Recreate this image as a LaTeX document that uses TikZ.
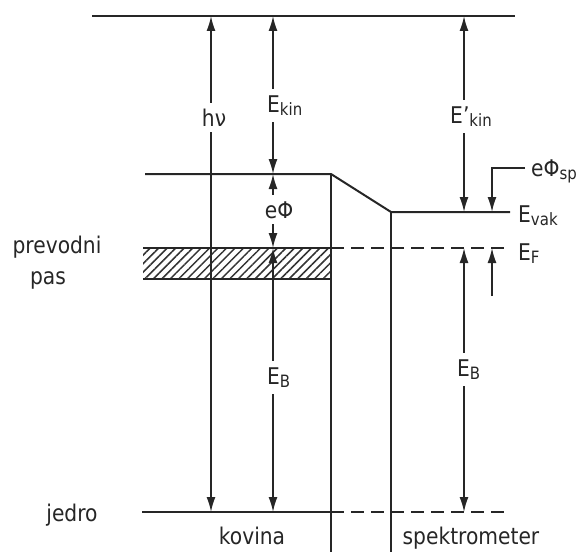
\documentclass[tikz,border=0pt]{standalone}
\usepackage{fontspec}
\setmainfont{DejaVu Sans}[FakeStretch=0.88]
\usetikzlibrary{arrows.meta,patterns.meta}
\newcommand\lowsub[1]{\raisebox{-0.3ex}{\fontsize{17}{17}\selectfont #1}}
\begin{document}
\begin{tikzpicture}[x=1pt,y=-1pt,
  level/.style={line width=2pt, color=black!85},
  dashlevel/.style={line width=2pt, color=black!85, dash pattern=on 13pt off 7pt},
  dim/.style={line width=1.6pt, color=black!85, {Latex[length=15pt,width=9pt]}-{Latex[length=15pt,width=9pt]}},
  onedim/.style={line width=1.6pt, color=black!85, -{Latex[length=15pt,width=9pt]}},
  lab/.style={font=\fontsize{23}{23}\selectfont, text=black!85, inner sep=0pt},
  gaplab/.style={lab, fill=white, inner ysep=6pt, inner xsep=1pt}]
\useasboundingbox (0,0) rectangle (585,551);

% coordinates of levels
\coordinate (topL) at (92,16);   \coordinate (topR) at (515,16);
\coordinate (vacL) at (145,174); \coordinate (vacM) at (331,174);
\coordinate (vacS) at (391,212); \coordinate (vacR) at (510,212);
\coordinate (fermiL) at (143,248); \coordinate (fermiM) at (331,248); \coordinate (fermiR) at (510,248);
\coordinate (bandL) at (143,279); \coordinate (bandR) at (331,279);
\coordinate (coreL) at (142,512); \coordinate (coreM) at (331,512); \coordinate (coreR) at (505,512);
\coordinate (wallM) at (331,560); \coordinate (wallS) at (391,560);

% hatched conduction band
\fill[pattern={Lines[angle=45,distance=6pt,line width=1.5pt]}, pattern color=black!80] (fermiL) rectangle (bandR);

% levels
\draw[level] (topL) -- (topR);
\draw[level] (vacL) -- (vacM) -- (vacS) -- (vacR);
\draw[level] (vacM) -- (wallM);
\draw[level] (vacS) -- (wallS);
\draw[level] (fermiL) -- (fermiM);
\draw[dashlevel] (fermiM) -- (fermiR);
\draw[level] (bandL) -- (bandR);
\draw[level] (coreL) -- (coreM);
\draw[dashlevel] (coreM) -- (coreR);

% arrow end points
\coordinate (hvT) at (211,16);  \coordinate (hvB) at (211,512);
\coordinate (kT) at (273,16);   \coordinate (kV) at (273,174);
\coordinate (kF) at (273,248);  \coordinate (kB) at (273,512);
\coordinate (sT) at (464,16);   \coordinate (sV) at (464,212);
\coordinate (sF) at (464,248);  \coordinate (sB) at (464,512);
\coordinate (pE) at (525,168);  \coordinate (pC) at (492,168);
\coordinate (pV) at (492,212);  \coordinate (pF) at (492,248);
\coordinate (pL) at (492,296);

\draw[dim] (hvT) -- (hvB);
\draw[dim] (kT) -- (kV);
\draw[dim] (kV) -- (kF);
\draw[dim] (kF) -- (kB);
\draw[dim] (sT) -- (sV);
\draw[dim] (sF) -- (sB);
\draw[onedim] (pE) -- (pC) -- (pV);
\draw[onedim] (pL) -- (pF);

% labels on arrows
\node[gaplab, anchor=base] (lhv) at (214,126) {hν};
\node[gaplab, anchor=base west] (lkin) at (266,112) {E\lowsub{kin}};
\node[gaplab, anchor=base] (lphi) at (279,218) {eΦ};
\node[gaplab, anchor=base west] (lEB1) at (266,384) {E\lowsub{B}};
\node[gaplab, anchor=base west] (lkin2) at (449,123) {E'\lowsub{kin}};
\node[gaplab, anchor=base west] (lEB2) at (456,376) {E\lowsub{B}};

% side labels
\node[lab, anchor=base west] (lphisp) at (531,176) {eΦ\lowsub{sp}};
\node[lab, anchor=base west] (lvak) at (518,222) {E\lowsub{vak}};
\node[lab, anchor=base west] (lEF) at (518,260) {E\lowsub{F}};
\node[lab, anchor=base] (lprev) at (57,253) {prevodni};
\node[lab, anchor=base] (lpas) at (48,284) {pas};
\node[lab, anchor=base] (ljedro) at (72,521) {jedro};
\node[lab, anchor=base] (lkov) at (252,544) {kovina};
\node[lab, anchor=base] (lspek) at (471,544) {spektrometer};
\end{tikzpicture}
\end{document}
